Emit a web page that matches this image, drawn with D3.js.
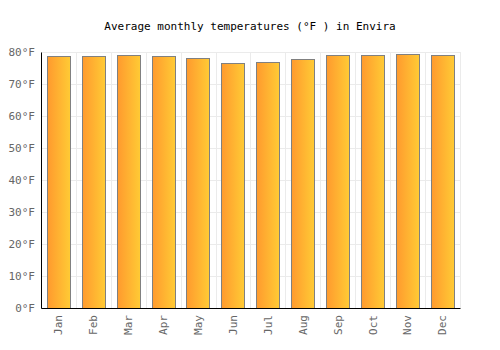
<!DOCTYPE html>
<html>
<head>
<meta charset="utf-8">
<script src="https://cdn.jsdelivr.net/npm/d3@7"></script>
<style>
  body { margin: 0; background: #fff; }
  text { font-family: "DejaVu Sans Mono", monospace; }
</style>
</head>
<body>
<div id="chart"></div>
<script>
// data
var months = ["Jan", "Feb", "Mar", "Apr", "May", "Jun", "Jul", "Aug", "Sep", "Oct", "Nov", "Dec"];
var temps = [78.7, 78.7, 79.1, 78.8, 78.0, 76.5, 76.8, 77.7, 79.1, 79.1, 79.4, 79.1];
var yTicks = [0, 10, 20, 30, 40, 50, 60, 70, 80];

var margin = {top: 52, right: 40, bottom: 42, left: 41},
    width = 500 - margin.left - margin.right,
    height = 350 - margin.top - margin.bottom;

var svg = d3.select("#chart").append("svg")
    .attr("width", 500)
    .attr("height", 350);

// gradient for the bars
var grad = svg.append("defs").append("linearGradient")
    .attr("id", "barGrad")
    .attr("x1", "0%").attr("x2", "100%").attr("y1", "0%").attr("y2", "0%");
grad.append("stop").attr("offset", "0%").attr("stop-color", "#ff9a2e");
grad.append("stop").attr("offset", "100%").attr("stop-color", "#ffcb35");

svg.append("text")
    .attr("x", 250)
    .attr("y", 30)
    .attr("text-anchor", "middle")
    .style("font-size", "11px")
    .attr("fill", "#000")
    .text("Average monthly temperatures (°F ) in Envira");

var g = svg.append("g")
    .attr("transform", "translate(" + margin.left + "," + margin.top + ")");

var x = d3.scaleBand().domain(months).range([0, width]).paddingInner(0).paddingOuter(0);
var y = d3.scaleLinear().domain([0, 80]).range([height, 0]);

// horizontal grid
g.selectAll(".hgrid").data(yTicks).enter().append("line")
    .attr("x1", 0).attr("x2", width)
    .attr("y1", function(d) { return Math.round(y(d)) + 0.5; })
    .attr("y2", function(d) { return Math.round(y(d)) + 0.5; })
    .attr("stroke", "#ebebeb");

// vertical grid at band edges
g.selectAll(".vgrid").data(months).enter().append("line")
    .attr("x1", function(d) { return Math.round(x(d) + x.bandwidth()) + 0.5; })
    .attr("x2", function(d) { return Math.round(x(d) + x.bandwidth()) + 0.5; })
    .attr("y1", 0).attr("y2", height)
    .attr("stroke", "#ebebeb");

// bars
var bw = x.bandwidth() * 0.67;
g.selectAll(".bar").data(temps).enter().append("rect")
    .attr("x", function(d, i) { return Math.round(x(months[i]) + (x.bandwidth() - bw) / 2) + 0.5; })
    .attr("y", function(d) { return Math.round(y(d)) + 0.5; })
    .attr("width", Math.round(bw))
    .attr("height", function(d) { return Math.round(height - y(d)); })
    .attr("fill", "url(#barGrad)")
    .attr("stroke", "#808080")
    .attr("stroke-width", 1);

// y axis
var yAxis = g.append("g")
    .call(d3.axisLeft(y).tickValues(yTicks).tickSize(0).tickPadding(6)
      .tickFormat(function(d) { return d + "°F"; }));
yAxis.select(".domain").attr("stroke", "#000");
yAxis.selectAll("text")
    .style("font-size", "11px")
    .attr("fill", "#666");

// x axis
var xAxis = g.append("g")
    .attr("transform", "translate(0," + height + ")")
    .call(d3.axisBottom(x).tickSize(0));
xAxis.select(".domain").attr("stroke", "#000");
xAxis.selectAll("text")
    .style("font-size", "11px")
    .attr("fill", "#666")
    .attr("transform", "rotate(-90)")
    .attr("text-anchor", "end")
    .attr("dy", "0.35em")
    .attr("x", -7)
    .attr("y", 0);
</script>
</body>
</html>
